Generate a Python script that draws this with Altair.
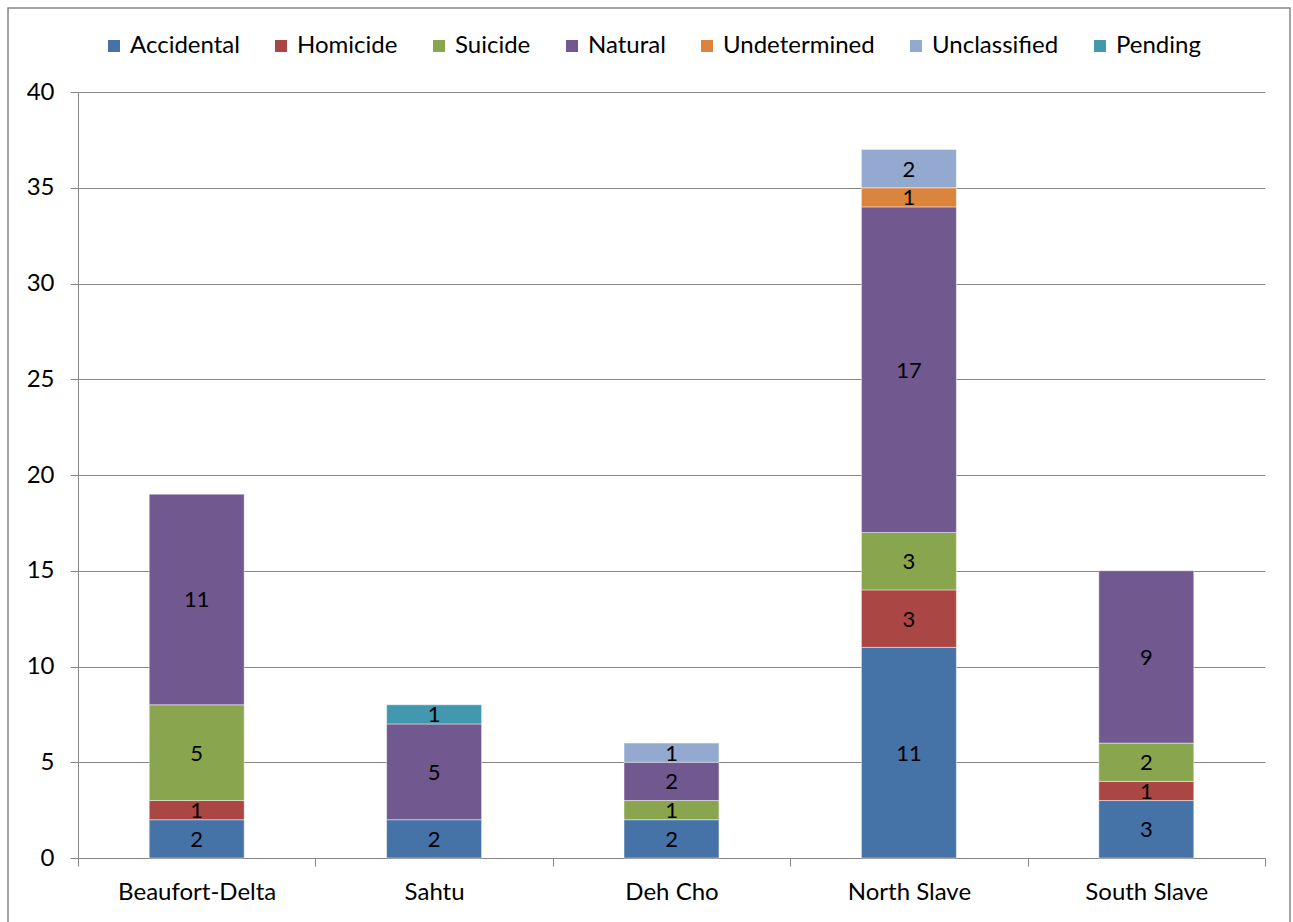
import altair as alt
import pandas as pd

# Deaths by region and classification
regions = ["Beaufort-Delta", "Sahtu", "Deh Cho", "North Slave", "South Slave"]
causes = ["Accidental", "Homicide", "Suicide", "Natural",
          "Undetermined", "Unclassified", "Pending"]
colors = ["#4572A7", "#AA4643", "#89A54E", "#71588F",
          "#DB843D", "#93A9CF", "#4198AF"]

accidental = [2, 2, 2, 11, 3]
homicide = [1, 0, 0, 3, 1]
suicide = [5, 0, 1, 3, 2]
natural = [11, 5, 2, 17, 9]
undetermined = [0, 0, 0, 1, 0]
unclassified = [0, 0, 1, 2, 0]
pending = [0, 1, 0, 0, 0]

y_ticks = [0, 5, 10, 15, 20, 25, 30, 35, 40]

series = [accidental, homicide, suicide, natural, undetermined, unclassified, pending]

rows = []
for ci, (cause, vals) in enumerate(zip(causes, series)):
    for region, v in zip(regions, vals):
        if v > 0:
            rows.append({"region": region, "cause": cause, "order": ci, "count": v})
df = pd.DataFrame(rows)

FONT = "Lato"

base = alt.Chart(df).encode(
    x=alt.X("region:N", sort=regions, title=None,
            scale=alt.Scale(paddingInner=0, paddingOuter=0)),
)

bars = base.mark_bar(
    width=alt.RelativeBandSize(0.4), stroke="#ffffff", strokeOpacity=0.45, strokeWidth=1
).encode(
    y=alt.Y("sum(count):Q", stack="zero", title=None,
            scale=alt.Scale(domain=[0, 40], nice=False),
            axis=alt.Axis(values=y_ticks)),
    color=alt.Color("cause:N", sort=causes,
                    scale=alt.Scale(domain=causes, range=colors),
                    legend=alt.Legend(
                        title=None, orient="none", direction="horizontal",
                        legendX=24, legendY=-58,
                        symbolType="square", symbolSize=144, symbolStrokeWidth=0,
                        labelFont=FONT, labelFontSize=24, labelColor="#000000",
                        labelOffset=4, columnPadding=29, labelLimit=300)),
    order=alt.Order("order:Q", sort="ascending"),
)

labels = base.transform_window(
    cum="sum(count)", sort=[alt.SortField("order")], groupby=["region"]
).transform_calculate(
    mid="datum.cum - datum.count / 2"
).mark_text(font=FONT, fontSize=22, color="#000000", baseline="middle", dy=1).encode(
    y=alt.Y("mid:Q"),
    text=alt.Text("count:Q"),
)

frame = alt.Chart(pd.DataFrame({"k": [0]})).mark_rect(
    fill=None, stroke="#868686", strokeWidth=1.5
).encode(
    x=alt.value(-70), x2=alt.value(1212), y=alt.value(-84), y2=alt.value(842)
)

chart = alt.layer(bars, labels, frame).properties(
    width=1187, height=766,
    autosize=alt.AutoSizeParams(type="none"),
    padding={"left": 78, "top": 92, "right": 28, "bottom": 64},
    background="#ffffff",
).configure_view(
    stroke=None
).configure_axisY(
    domainColor="#868686", tickColor="#868686", gridColor="#868686",
    tickSize=8, labelPadding=16, labelFont=FONT, labelFontSize=24,
    labelColor="#000000", grid=True,
).configure_axisX(
    domainColor="#868686", tickColor="#868686", grid=False,
    tickBand="extent", tickSize=8, labelPadding=14, labelAngle=0,
    labelFont=FONT, labelFontSize=24, labelColor="#000000",
)

chart.save("out.html", embed_options={"renderer": "svg", "actions": False})
